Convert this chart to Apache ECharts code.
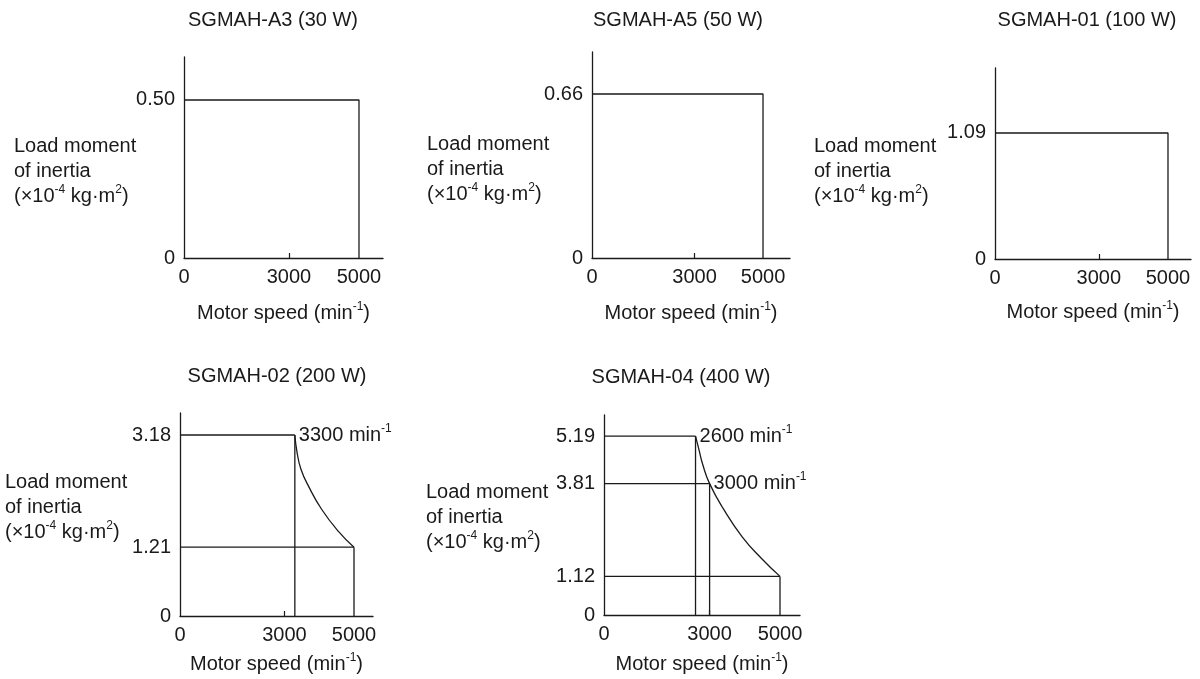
<!DOCTYPE html>
<html>
<head>
<meta charset="utf-8">
<script src="https://cdn.jsdelivr.net/npm/echarts@6/dist/echarts.min.js"></script>
<style>
html,body{margin:0;padding:0;background:#fff;}
#c{width:1200px;height:679px;}
</style>
</head>
<body>
<div id="c"></div>
<script>
// ---------- data ----------
const chartTitles = ['SGMAH-A3 (30 W)', 'SGMAH-A5 (50 W)', 'SGMAH-01 (100 W)', 'SGMAH-02 (200 W)', 'SGMAH-04 (400 W)'];
const speedTicks = [0, 3000, 5000];
const maxSpeed = 5000;
const limitA3 = 0.50;
const limitA5 = 0.66;
const limit01 = 1.09;
const yTicksA3 = [0, 0.50];
const yTicksA5 = [0, 0.66];
const yTicks01 = [0, 1.09];
const yTicks02 = [0, 1.21, 3.18];
const yTicks04 = [0, 1.12, 3.81, 5.19];
// SGMAH-02
const knee02 = [3300, 3.18];
const end02 = [5000, 1.21];
const curve02 = [[3300, 3.18], [3360, 2.89], [3476, 2.58], [3711, 2.26], [4064, 1.88], [4532, 1.50], [5000, 1.21]];
// SGMAH-04
const knee04a = [2600, 5.19];
const knee04b = [3000, 3.81];
const end04 = [5000, 1.12];
const curve04 = [[2600, 5.19], [2699, 4.79], [2809, 4.35], [3000, 3.81], [3384, 3.09], [3931, 2.26], [4475, 1.64], [5000, 1.12]];

// ---------- style ----------
const FONT = "'Liberation Sans', Arial, Helvetica, sans-serif";
const FS = 20;
const INK = '#1a1a1a';
const rich = {
  n: {fontSize: FS, fontFamily: FONT, color: INK, lineHeight: 25},
  s: {fontSize: 12, fontFamily: FONT, color: INK, lineHeight: 14, verticalAlign: 'top'}
};

const grids = [
  {left: 184, top: 57, width: 199, height: 201, xMax: 5686, yMax: 0.636, nameGap: 43, ticks: yTicksA3},
  {left: 592, top: 52, width: 198, height: 206, xMax: 5789, yMax: 0.829, nameGap: 43, ticks: yTicksA5},
  {left: 995, top: 68, width: 196, height: 191, xMax: 5665, yMax: 1.652, nameGap: 41, ticks: yTicks01},
  {left: 180, top: 413, width: 193, height: 203, xMax: 5546, yMax: 3.567, nameGap: 36, ticks: yTicks02},
  {left: 604, top: 415, width: 196, height: 200, xMax: 5568, yMax: 5.8, nameGap: 37, ticks: yTicks04}
];

const fmtY = v => v === 0 ? '0' : Number(v).toFixed(2);
const fmtX = v => String(Math.round(v));

const option = {
  animation: false,
  backgroundColor: '#fff',
  grid: grids.map(g => ({left: g.left, top: g.top, width: g.width, height: g.height, containLabel: false, outerBoundsMode: 'none'})),
  xAxis: grids.map((g, i) => ({
    type: 'value', gridIndex: i, min: 0, max: g.xMax,
    axisLine: {show: true, onZero: false, lineStyle: {color: INK, width: 1.3}},
    axisTick: {show: true, customValues: [3000], inside: true, length: 5, lineStyle: {color: INK, width: 1.2}},
    axisLabel: {customValues: speedTicks, formatter: fmtX, fontSize: FS, fontFamily: FONT, color: INK, margin: 9, showMinLabel: true, showMaxLabel: true},
    splitLine: {show: false},
    name: '{n|Motor speed (min}{s|-1}{n|)}',
    nameLocation: 'middle', nameGap: g.nameGap,
    nameTextStyle: {rich: rich}
  })),
  yAxis: grids.map((g, i) => ({
    type: 'value', gridIndex: i, min: 0, max: g.yMax,
    axisLine: {show: true, onZero: false, lineStyle: {color: INK, width: 1.3}},
    axisTick: {show: false},
    axisLabel: {customValues: g.ticks, formatter: fmtY, fontSize: FS, fontFamily: FONT, color: INK, margin: 9},
    splitLine: {show: false}
  })),
  series: [],
  graphic: []
};

function seg(i, data, smooth) {
  option.series.push({
    type: 'line', xAxisIndex: i, yAxisIndex: i, data: data,
    symbol: 'none', smooth: smooth || false, silent: true,
    lineStyle: {color: INK, width: 1.3}
  });
}
function note(i, pt, text) {
  option.series.push({
    type: 'scatter', xAxisIndex: i, yAxisIndex: i, data: [pt],
    symbolSize: 2, itemStyle: {color: 'rgba(0,0,0,0)'}, silent: true,
    label: {show: true, position: 'right', distance: 3, color: INK, opacity: 1,
      formatter: '{n|' + text + ' min}{s|-1}', rich: rich}
  });
}

// flat-limit charts
[limitA3, limitA5, limit01].forEach((lim, i) => {
  seg(i, [[0, lim], [maxSpeed, lim], [maxSpeed, 0]]);
});

// SGMAH-02
seg(3, [[0, knee02[1]], knee02]);
seg(3, curve02, 0.5);
seg(3, [[knee02[0], 0], knee02]);
seg(3, [[0, end02[1]], end02]);
seg(3, [[end02[0], 0], end02]);
note(3, knee02, String(knee02[0]));

// SGMAH-04
seg(4, [[0, knee04a[1]], knee04a]);
seg(4, curve04, 0.5);
seg(4, [[knee04a[0], 0], knee04a]);
seg(4, [[knee04b[0], 0], knee04b]);
seg(4, [[0, knee04b[1]], knee04b]);
seg(4, [[0, end04[1]], end04]);
seg(4, [[end04[0], 0], end04]);
note(4, knee04a, String(knee04a[0]));
note(4, knee04b, String(knee04b[0]));

// titles
const titlePos = [[273, 20], [678, 20], [1087, 20], [277, 376], [681, 377]];
chartTitles.forEach((t, i) => {
  option.graphic.push({
    type: 'text', x: titlePos[i][0], y: titlePos[i][1], silent: true,
    style: {text: t, font: FS + 'px ' + FONT, fill: INK, align: 'center', textAlign: 'center', verticalAlign: 'middle', textVerticalAlign: 'middle'}
  });
});

// y-axis names
const yNamePos = [[14, 134], [427, 132], [814, 134], [5, 470], [426, 480]];
const yNameText = '{n|Load moment}\n{n|of inertia}\n{n|(×10}{s|-4}{n| kg·m}{s|2}{n|)}';
yNamePos.forEach(p => {
  option.graphic.push({
    type: 'text', x: p[0], y: p[1], silent: true,
    style: {text: yNameText, rich: rich, fill: INK, font: FS + 'px ' + FONT, align: 'left', textAlign: 'left', verticalAlign: 'top', textVerticalAlign: 'top'}
  });
});

const chart = echarts.init(document.getElementById('c'), null, {renderer: 'canvas'});
chart.setOption(option);
</script>
</body>
</html>
